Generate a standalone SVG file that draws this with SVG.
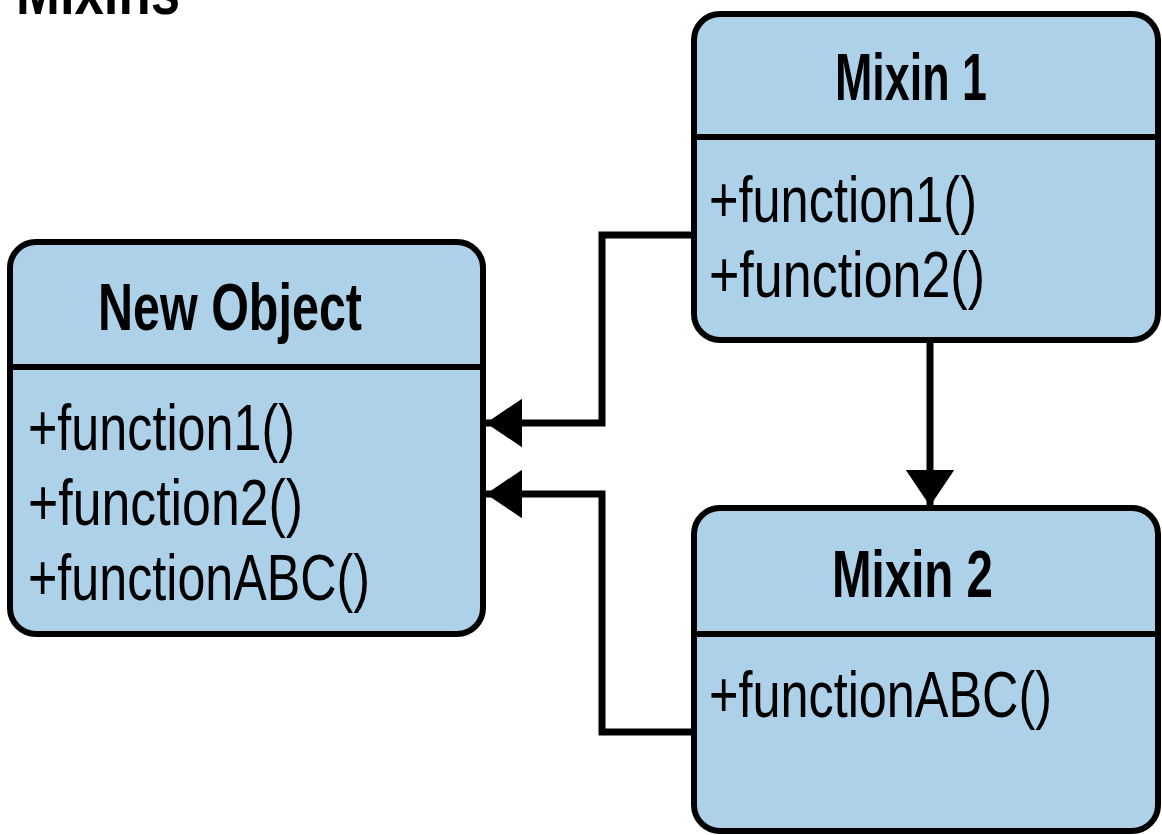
<svg xmlns="http://www.w3.org/2000/svg" width="1162" height="835" viewBox="0 0 1162 835">
<defs>
<style>
.box{fill:#aed1ea;stroke:#000;stroke-width:6}
.div{stroke:#000;stroke-width:6;fill:none}
.t{font-family:"Liberation Sans",Arial,sans-serif;font-size:67px;font-weight:bold;fill:#000}
.b{font-family:"Liberation Sans",Arial,sans-serif;font-size:65px;fill:#000}
.c{fill:none;stroke:#000;stroke-width:7;stroke-linejoin:miter}
</style>
<marker id="ah" viewBox="0 0 10 10" refX="10" refY="5" markerWidth="5.2" markerHeight="7" markerUnits="strokeWidth" orient="auto" preserveAspectRatio="none">
<path d="M0,0 L10,5 L0,10 Z" fill="#000"/>
</marker>
</defs>
<text class="t" x="16" y="14" textLength="164" lengthAdjust="spacingAndGlyphs">Mixins</text>
<g id="new-object">
<rect class="box" x="10" y="242" width="473" height="392" rx="26"/>
<line class="div" x1="10" y1="367" x2="483" y2="367"/>
<text class="t" x="98" y="330" textLength="264" lengthAdjust="spacingAndGlyphs">New Object</text>
<text class="b" x="28" y="450" textLength="267" lengthAdjust="spacingAndGlyphs">+function1()</text>
<text class="b" x="28" y="525" textLength="275" lengthAdjust="spacingAndGlyphs">+function2()</text>
<text class="b" x="28" y="600" textLength="342" lengthAdjust="spacingAndGlyphs">+functionABC()</text>
</g>
<g id="mixin-1">
<rect class="box" x="694" y="14" width="464" height="326" rx="26"/>
<line class="div" x1="694" y1="137" x2="1158" y2="137"/>
<text class="t" x="835" y="100" textLength="152" lengthAdjust="spacingAndGlyphs">Mixin 1</text>
<text class="b" x="709" y="222" textLength="268" lengthAdjust="spacingAndGlyphs">+function1()</text>
<text class="b" x="709" y="297" textLength="276" lengthAdjust="spacingAndGlyphs">+function2()</text>
</g>
<g id="mixin-2">
<rect class="box" x="694" y="508" width="464" height="323" rx="26"/>
<line class="div" x1="694" y1="634" x2="1158" y2="634"/>
<text class="t" x="832" y="597" textLength="161" lengthAdjust="spacingAndGlyphs">Mixin 2</text>
<text class="b" x="709" y="717" textLength="343" lengthAdjust="spacingAndGlyphs">+functionABC()</text>
</g>
<g id="connectors">
<path class="c" d="M691,235 H602 V423 H486" marker-end="url(#ah)"/>
<path class="c" d="M691,732 H602 V494 H486" marker-end="url(#ah)"/>
<path class="c" d="M930,343 V506" marker-end="url(#ah)"/>
</g>
</svg>
